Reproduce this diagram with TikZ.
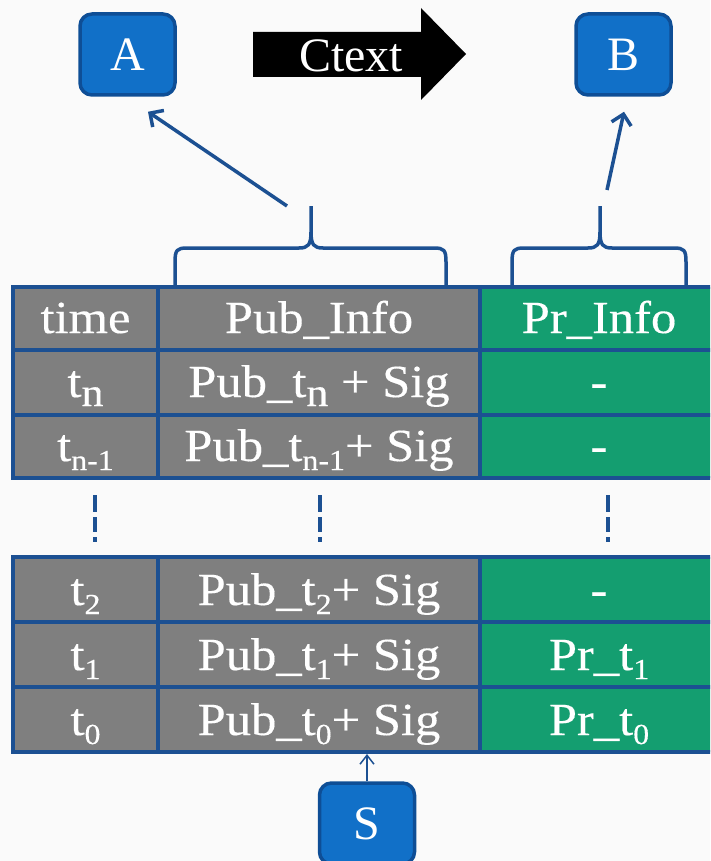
\documentclass[tikz,border=0pt]{standalone}
\usepackage{fontspec}
\setmainfont{Liberation Serif}
\newfontfamily\tabfont[FakeStretch=1.1,FakeBold=0.3]{Liberation Serif}
\usetikzlibrary{arrows.meta,calc}

\definecolor{boxfill}{RGB}{17,112,200}
\definecolor{boxedge}{RGB}{14,78,150}
\definecolor{rulecol}{RGB}{28,80,146}
\definecolor{cellgray}{RGB}{127,127,127}
\definecolor{cellgreen}{RGB}{20,158,112}
\definecolor{paper}{RGB}{250,250,250}

% lowered index, optionally in a smaller size
\newcommand\lowr[2][40]{\raisebox{-9pt}{\fontsize{#1}{#1}\selectfont #2}}

\begin{document}
\begin{tikzpicture}[x=1pt,y=-1pt,
  party/.style={draw=boxedge, fill=boxfill, line width=3.5pt, rounded corners=12pt,
    minimum width=95pt, minimum height=81pt, inner sep=0pt, text=white,
    font=\fontsize{48}{48}\selectfont},
  cell/.style={anchor=base, inner sep=0pt, text=white, font=\tabfont\fontsize{46}{46}\selectfont},
  tablerule/.style={draw=rulecol, line width=4pt},
  bracket/.style={draw=rulecol, line width=3.5pt, line join=round},
  pointer/.style={draw=rulecol, line width=3.5pt, -{Straight Barb[length=10pt,width=20pt,line width=3.5pt]}},
  thinpointer/.style={draw=rulecol, line width=1.5pt, -{Straight Barb[length=9pt,width=14pt,line width=1.5pt]}},
  gapmark/.style={draw=rulecol, line width=4pt, dash pattern=on 17pt off 5pt on 15pt off 5pt on 6pt}
]
\useasboundingbox (0,0) rectangle (710,861);
\clip (0,0) rectangle (710,861);
\fill[paper] (0,0) rectangle (710,861);

% parties
\node[party] (A) at (127.5,54.5) {A};
\node[party] (B) at (623.5,54.5) {B};
\node[party] (S) at (367,823.5) {S};

% channel arrow
\fill[black] (253,32) -- (421,32) -- (421,8) -- (466,54) -- (421,100) -- (421,77) -- (253,77) -- cycle;
\node[anchor=base, inner sep=0pt, text=white, font=\fontsize{48}{48}\selectfont] (ctext) at (351,72) {Ctext};

% upper part of the table
\fill[cellgray] (13,287) rectangle (480,478);
\fill[cellgreen] (480,287) rectangle (718,478);
\draw[tablerule] (13,287) rectangle (718,478);
\draw[tablerule] (13,350) -- (718,350) (13,415) -- (718,415)
  (158,287) -- (158,478) (480,287) -- (480,478);

% lower part of the table
\fill[cellgray] (13,557) rectangle (480,752);
\fill[cellgreen] (480,557) rectangle (718,752);
\draw[tablerule] (13,557) rectangle (718,752);
\draw[tablerule] (13,622) -- (718,622) (13,687) -- (718,687)
  (158,557) -- (158,752) (480,557) -- (480,752);

% cell texts
\node[cell] (h1) at (85.5,333) {time};
\node[cell] (h2) at (319,333) {Pub\_Info};
\node[cell] (h3) at (599,333) {Pr\_Info};
\node[cell] (r11) at (85.5,397) {t\lowr{n}};
\node[cell] (r12) at (319,397) {Pub\_t\lowr{n} + Sig};
\node[cell] (r13) at (599,397) {-};
\node[cell] (r21) at (85.5,461) {t\lowr[29]{n-1}};
\node[cell] (r22) at (319,461) {Pub\_t\lowr[29]{n-1}+ Sig};
\node[cell] (r23) at (599,461) {-};
\node[cell] (r31) at (85.5,605) {t\lowr[29]{2}};
\node[cell] (r32) at (319,605) {Pub\_t\lowr[29]{2}+ Sig};
\node[cell] (r33) at (599,605) {-};
\node[cell] (r41) at (85.5,670) {t\lowr[29]{1}};
\node[cell] (r42) at (319,670) {Pub\_t\lowr[29]{1}+ Sig};
\node[cell] (r43) at (599,670) {Pr\_t\lowr[29]{1}};
\node[cell] (r51) at (85.5,735) {t\lowr[29]{0}};
\node[cell] (r52) at (319,735) {Pub\_t\lowr[29]{0}+ Sig};
\node[cell] (r53) at (599,735) {Pr\_t\lowr[29]{0}};

% omitted rows
\draw[gapmark] (95,495) -- (95,542);
\draw[gapmark] (320,495) -- (320,542);
\draw[gapmark] (608,495) -- (608,542);

% braces over the public and private columns
\draw[bracket] (175,287) -- (175,262) .. controls (175,250) and (177,248) .. (187,248)
  -- (299,248) .. controls (308,248) and (311,245) .. (311,232) -- (311,206);
\draw[bracket] (311,232) .. controls (311,245) and (314,248) .. (323,248)
  -- (434,248) .. controls (444,248) and (446,250) .. (446,262) -- (446,287);
\draw[bracket] (512,287) -- (512,262) .. controls (512,250) and (514,248) .. (524,248)
  -- (588,248) .. controls (597,248) and (600,245) .. (600,232) -- (600,206);
\draw[bracket] (600,232) .. controls (600,245) and (603,248) .. (612,248)
  -- (674,248) .. controls (684,248) and (686,250) .. (686,262) -- (686,287);

% connectors
\coordinate (pubtip) at (287,206);
\coordinate (prtip) at (607,190);
\coordinate (tblfoot) at (367,754);
\draw[pointer] (pubtip) -- ($(A.south)+(20.5,15)$);
\draw[pointer] (prtip) -- ($(B.south)+(0.5,15)$);
\draw[thinpointer] (S.north) -- (tblfoot);
\end{tikzpicture}
\end{document}
